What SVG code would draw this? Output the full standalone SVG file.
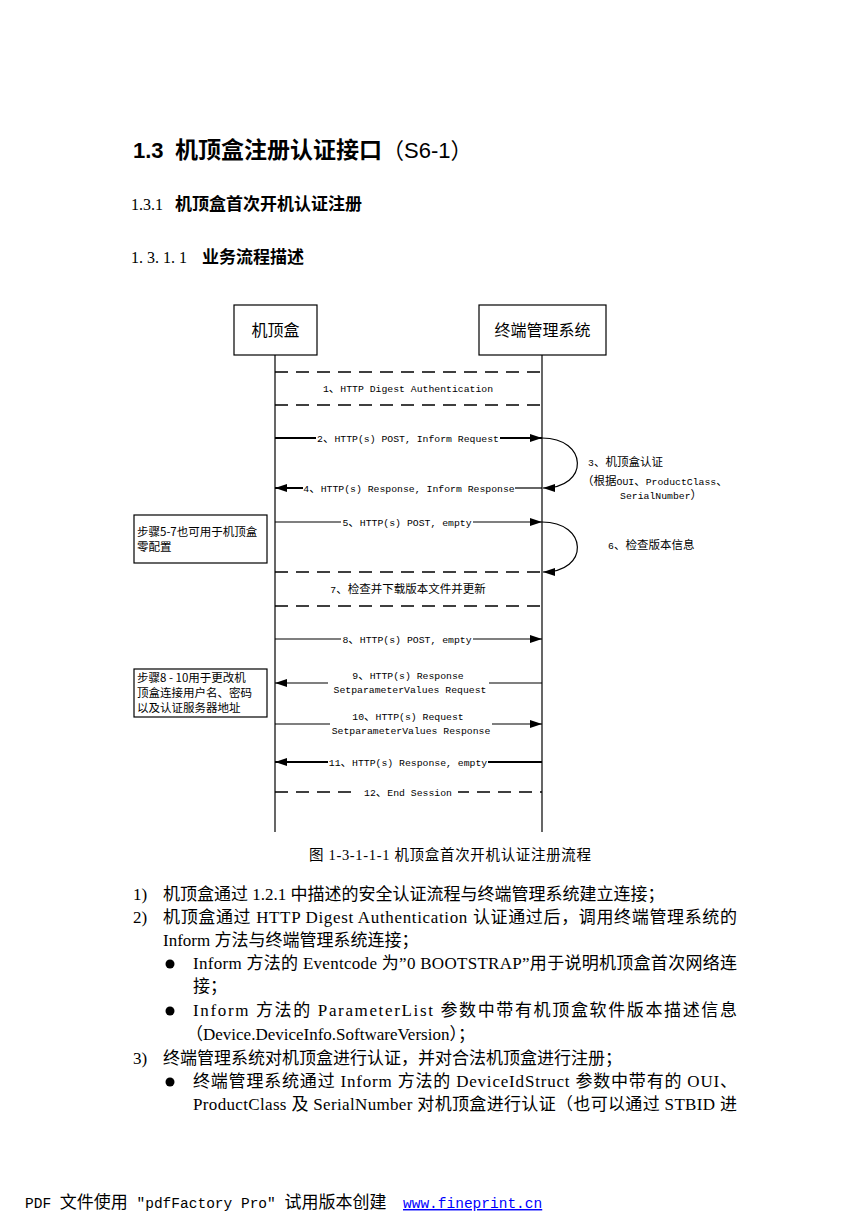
<svg xmlns="http://www.w3.org/2000/svg" width="868" height="1228" viewBox="0 0 868 1228">
<style>
.h1l{font-family:"Liberation Sans",Arial,sans-serif;font-weight:bold;font-size:22px}
.h1c{font-family:"Noto Sans CJK SC",sans-serif;font-weight:bold;font-size:23px}
.h1n{font-family:"Liberation Sans","Noto Sans CJK SC",sans-serif;font-weight:normal;font-size:22px}
.h2l{font-family:"Liberation Serif",serif;font-size:16px}
.h2c{font-family:"Noto Sans CJK SC",sans-serif;font-weight:bold;font-size:17px}
.body{font-family:"Liberation Serif","Noto Sans CJK SC",serif;font-size:17px;fill:#000}
.cap{font-family:"Liberation Serif","Noto Sans CJK SC",serif;font-size:14.5px}
.d{font-family:"Liberation Mono","Noto Sans CJK SC",monospace;font-size:9.8px;fill:#000}
.c{font-family:"Noto Sans CJK SC",sans-serif;font-size:11.5px}
.node{font-family:"Noto Sans CJK SC",sans-serif;font-size:16px}
.note{font-family:"Noto Sans CJK SC",sans-serif;font-size:11.5px}
.box{fill:#fff;stroke:#000;stroke-width:1.2}
.life{stroke:#000;stroke-width:1.2;fill:none}
.thin{stroke:#000;stroke-width:1.2;fill:none}
.thick{stroke:#000;stroke-width:2;fill:none}
.dash{stroke:#000;stroke-width:1.5;stroke-dasharray:13 8;fill:none}
.foot{font-family:"Liberation Mono","Noto Sans CJK SC",monospace;font-size:14.5px;fill:#000}
.link{font-family:"Liberation Mono",monospace;font-size:14.5px;fill:#0000ff;text-decoration:underline}
.fc{font-family:"Noto Sans CJK SC",sans-serif;font-size:17px}
</style>
<defs>
<marker id="ah" markerUnits="userSpaceOnUse" markerWidth="13" markerHeight="9" refX="12" refY="4" orient="auto">
<path d="M0,0 L12,4 L0,8 z" fill="#000"/>
</marker>
</defs>
<rect width="868" height="1228" fill="#fff"/>

<g id="headings">
<text x="133" y="158"><tspan class="h1l">1.3</tspan><tspan class="h1c" x="175">机顶盒注册认证接口</tspan><tspan class="h1n">（S6-1）</tspan></text>
<text x="131" y="210"><tspan class="h2l">1.3.1</tspan><tspan class="h2c" x="175">机顶盒首次开机认证注册</tspan></text>
<text x="131" y="263"><tspan class="h2l">1. 3. 1. 1</tspan><tspan class="h2c" x="202">业务流程描述</tspan></text>
</g>

<g id="node-stb">
<rect class="box" x="234" y="305" width="83" height="50"/>
<text class="node" x="275.5" y="336" text-anchor="middle">机顶盒</text>
</g>
<g id="node-tms">
<rect class="box" x="479" y="305" width="127" height="50"/>
<text class="node" x="542.5" y="336" text-anchor="middle">终端管理系统</text>
</g>
<g id="note-1">
<rect class="box" x="134" y="515" width="133" height="48"/>
<text class="note" x="137" y="536">步骤5-7也可用于机顶盒</text>
<text class="note" x="137" y="551">零配置</text>
</g>
<g id="note-2">
<rect class="box" x="134" y="669" width="133" height="48"/>
<text class="note" x="137" y="682">步骤8 - 10用于更改机</text>
<text class="note" x="137" y="697">顶盒连接用户名、密码</text>
<text class="note" x="137" y="712">以及认证服务器地址</text>
</g>

<g id="connectors">
<line class="life" x1="275" y1="355" x2="275" y2="832"/>
<line class="life" x1="542" y1="355" x2="542" y2="832"/>
<line class="dash" x1="275" y1="372" x2="542" y2="372"/>
<line class="dash" x1="275" y1="405" x2="542" y2="405"/>
<line class="thick" x1="275" y1="438" x2="316" y2="438"/>
<line class="thick" x1="500" y1="438" x2="542" y2="438" marker-end="url(#ah)"/>
<path class="thin" d="M542,438 C588,438 590,488 543,488" marker-end="url(#ah)"/>
<line class="thin" x1="542" y1="488" x2="515" y2="488"/>
<line class="thick" x1="303" y1="488" x2="275" y2="488" marker-end="url(#ah)"/>
<line class="thin" x1="275" y1="522" x2="341" y2="522"/>
<line class="thin" x1="473" y1="522" x2="542" y2="522" marker-end="url(#ah)"/>
<path class="thin" d="M542,522 C588,522 590,572 543,572" marker-end="url(#ah)"/>
<line class="dash" x1="275" y1="572" x2="542" y2="572"/>
<line class="dash" x1="275" y1="606" x2="542" y2="606"/>
<line class="thin" x1="275" y1="639" x2="341" y2="639"/>
<line class="thin" x1="473" y1="639" x2="542" y2="639" marker-end="url(#ah)"/>
<line class="thin" x1="542" y1="683" x2="489" y2="683"/>
<line class="thin" x1="328" y1="683" x2="275" y2="683" marker-end="url(#ah)"/>
<line class="thin" x1="275" y1="724" x2="330" y2="724"/>
<line class="thin" x1="492" y1="724" x2="542" y2="724" marker-end="url(#ah)"/>
<line class="thick" x1="542" y1="762" x2="488" y2="762"/>
<line class="thick" x1="328" y1="762" x2="275" y2="762" marker-end="url(#ah)"/>
<line class="dash" x1="275" y1="792" x2="358" y2="792"/>
<line class="dash" x1="458" y1="792" x2="542" y2="792" stroke-dashoffset="2"/>
</g>

<g id="labels">
<text class="d" x="408" y="392" text-anchor="middle">1<tspan class="c">、</tspan>HTTP Digest Authentication</text>
<text class="d" x="408" y="442" text-anchor="middle">2<tspan class="c">、</tspan>HTTP(s) POST, Inform Request</text>
<text class="d" x="588" y="466">3<tspan class="c">、机顶盒认证</tspan></text>
<text class="d" x="582" y="485"><tspan class="c">（根据</tspan>OUI<tspan class="c">、</tspan>ProductClass<tspan class="c">、</tspan></text>
<text class="d" x="620" y="499">SerialNumber<tspan class="c">）</tspan></text>
<text class="d" x="409" y="492" text-anchor="middle">4<tspan class="c">、</tspan>HTTP(s) Response, Inform Response</text>
<text class="d" x="407" y="526" text-anchor="middle">5<tspan class="c">、</tspan>HTTP(s) POST, empty</text>
<text class="d" x="608" y="549">6<tspan class="c">、检查版本信息</tspan></text>
<text class="d" x="408" y="593" text-anchor="middle">7<tspan class="c">、检查并下载版本文件并更新</tspan></text>
<text class="d" x="407" y="643" text-anchor="middle">8<tspan class="c">、</tspan>HTTP(s) POST, empty</text>
<text class="d" x="408" y="679" text-anchor="middle">9<tspan class="c">、</tspan>HTTP(s) Response</text>
<text class="d" x="410" y="693" text-anchor="middle">SetparameterValues Request</text>
<text class="d" x="408" y="720" text-anchor="middle">10<tspan class="c">、</tspan>HTTP(s) Request</text>
<text class="d" x="411" y="734" text-anchor="middle">SetparameterValues Response</text>
<text class="d" x="408" y="766" text-anchor="middle">11<tspan class="c">、</tspan>HTTP(s) Response, empty</text>
<text class="d" x="408" y="796" text-anchor="middle">12<tspan class="c">、</tspan>End Session</text>
</g>

<g id="caption">
<text class="cap" x="309" y="860" textLength="282" lengthAdjust="spacing">图 1-3-1-1-1 机顶盒首次开机认证注册流程</text>
</g>

<g id="body-text">
<text class="body" x="133" y="900">1)</text>
<text class="body" x="163" y="900">机顶盒通过 1.2.1 中描述的安全认证流程与终端管理系统建立连接；</text>
<text class="body" x="133" y="923">2)</text>
<text class="body" x="163" y="923" textLength="574" lengthAdjust="spacing">机顶盒通过 HTTP Digest Authentication 认证通过后，调用终端管理系统的</text>
<text class="body" x="163" y="946">Inform 方法与终端管理系统连接；</text>
<circle cx="170" cy="964" r="4.5" fill="#000"/>
<text class="body" x="193" y="969" textLength="544" lengthAdjust="spacing">Inform 方法的 Eventcode 为”0 BOOTSTRAP”用于说明机顶盒首次网络连</text>
<text class="body" x="193" y="992">接；</text>
<circle cx="170" cy="1011" r="4.5" fill="#000"/>
<text class="body" x="193" y="1016" textLength="544" lengthAdjust="spacing">Inform 方法的 ParameterList 参数中带有机顶盒软件版本描述信息</text>
<text class="body" x="186" y="1040">（Device.DeviceInfo.SoftwareVersion）；</text>
<text class="body" x="133" y="1064">3)</text>
<text class="body" x="163" y="1064">终端管理系统对机顶盒进行认证，并对合法机顶盒进行注册；</text>
<circle cx="170" cy="1082" r="4.5" fill="#000"/>
<text class="body" x="193" y="1087" textLength="544" lengthAdjust="spacing">终端管理系统通过 Inform 方法的 DeviceIdStruct 参数中带有的 OUI、</text>
<text class="body" x="193" y="1110" textLength="544" lengthAdjust="spacing">ProductClass 及 SerialNumber 对机顶盒进行认证（也可以通过 STBID 进</text>
</g>

<g id="footer">
<text class="foot" x="25" y="1208">PDF <tspan class="fc">文件使用</tspan> "pdfFactory Pro" <tspan class="fc">试用版本创建</tspan></text>
<text class="link" x="403" y="1208">www.fineprint.cn</text>
</g>
</svg>
